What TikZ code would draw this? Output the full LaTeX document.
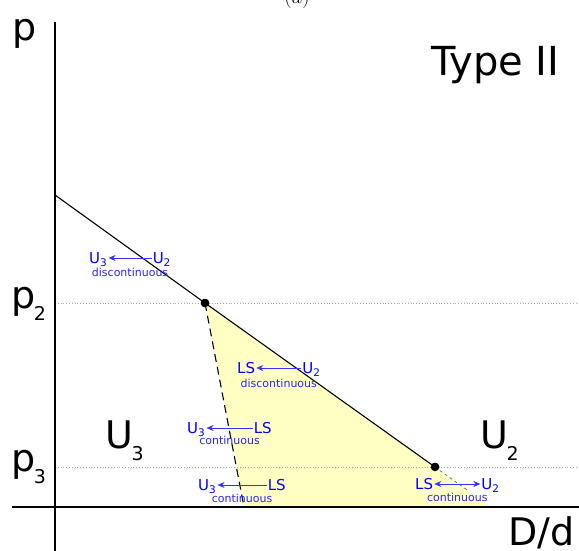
\documentclass[tikz,border=0pt]{standalone}
\usepackage{fontspec}
\newfontfamily\dejavu{DejaVu Sans}
\usetikzlibrary{arrows.meta, positioning}
\newcommand\idx[1]{\kern-1.5pt\raisebox{-0.33em}{\scalebox{0.5}{#1}}}
\definecolor{paleyellow}{RGB}{255,255,196}

\begin{document}
\begin{tikzpicture}[x=1pt, y=-1pt,
		axis/.style={line width=2.6pt},
		front/.style={line width=1.1pt},
		guide/.style={dotted, line width=0.8pt, gray!70},
		dot/.style={circle, fill=black, inner sep=0pt, minimum size=8.5pt},
		big/.style={inner sep=0pt, font=\dejavu\fontsize{38}{38}\selectfont},
		phase/.style={inner sep=1pt, text height=11pt, text depth=0pt, text=blue, font=\dejavu\fontsize{15}{15}\selectfont},
		note/.style={inner sep=0pt, text=blue!85, font=\dejavu\fontsize{11}{11}\selectfont},
		trans/.style={-{Stealth[length=7pt, width=6pt]}, blue!80, line width=0.6pt},
		twoway/.style={trans, {Stealth[length=7pt, width=6pt]}-{Stealth[length=7pt, width=6pt]}}
		]
		\useasboundingbox (0,0) rectangle (579,551);
		
		% Points of the phase boundaries
		\coordinate (start) at (55,195);
		\coordinate (lsfoot) at (244,507);
		\coordinate (u2foot) at (490.6,507);
		\coordinate (tail) at (468,490.6);
		\coordinate (g2a) at (55,303);
		\coordinate (g2b) at (579,303);
		\coordinate (g3a) at (55,467);
		\coordinate (g3b) at (579,467);
		\node[dot] (P2) at (205,303) {};
		\node[dot] (P3) at (435,467) {};
		
		% LS region
		\fill[paleyellow] (P2.center) -- (u2foot) -- (lsfoot) -- cycle;
		
		% Guide lines
		\draw[guide] (g2a) -- (g2b);
		\draw[guide] (g3a) -- (g3b);
		
		% Axes
		\draw[axis] (55,22) -- (55,560);
		\draw[axis] (12,507) -- (579,507);
		
		% Boundaries
		\draw[front] (start) -- (P2.center) -- (P3.center);
		\draw[front, dashed, dash pattern=on 8pt off 5pt] (P2.center) -- (lsfoot);
		\draw[dashed, line width=0.7pt, black!60] (P3.center) -- (tail);
		\node[dot] at (P2) {};
		\node[dot] at (P3) {};
		
		% Labels
		\node[anchor=base] (caption) at (297,4) {\fontsize{22}{22}\selectfont$(a)$};
		\node[big, anchor=base west] (plab) at (12,41) {p};
		\node[big, anchor=base west] (p2lab) at (11,308) {p\idx{2}};
		\node[big, anchor=base west] (p3lab) at (11,471) {p\idx{3}};
		\node[big, anchor=base west] (U3lab) at (105,448) {U\idx{3}};
		\node[big, anchor=base west] (U2lab) at (480,448) {U\idx{2}};
		\node[big, anchor=base west, font=\dejavu\fontsize{40}{40}\selectfont] (typelab) at (431,76) {Type II};
		\node[big, anchor=base west] (axlab) at (508,545) {D/d};
		
		% Transitions
		\node[phase, anchor=west] (to1) at (88,258) {U\textsubscript{3}};
		\node[phase, right=43pt of to1] (from1) {U\textsubscript{2}};
		\draw[trans] (from1) -- (to1) node[note, midway, yshift=-14pt] (n1) {discontinuous};
		
		\node[phase, anchor=west] (to2) at (236,368) {LS};
		\node[phase, right=45pt of to2] (from2) {U\textsubscript{2}};
		\draw[trans] (from2) -- (to2) node[note, midway, yshift=-15pt] (n2) {discontinuous};
		
		\node[phase, anchor=west] (to3) at (186,428) {U\textsubscript{3}};
		\node[phase, right=46pt of to3] (from3) {LS};
		\draw[trans] (from3) -- (to3) node[note, midway, yshift=-12pt] (n3) {continuous};
		
		\node[phase, anchor=west] (to4) at (197,485) {U\textsubscript{3}};
		\node[phase, right=49pt of to4] (from4) {LS};
		\draw[trans] (from4) -- (to4) node[note, midway, yshift=-13pt] (n4) {continuous};
		
		\node[phase, anchor=west] (to5) at (414,484) {LS};
		\node[phase, right=46pt of to5] (from5) {U\textsubscript{2}};
		\draw[twoway] (to5) -- (from5) node[note, midway, yshift=-13pt] (n5) {continuous};
		
	\end{tikzpicture}
\end{document}
